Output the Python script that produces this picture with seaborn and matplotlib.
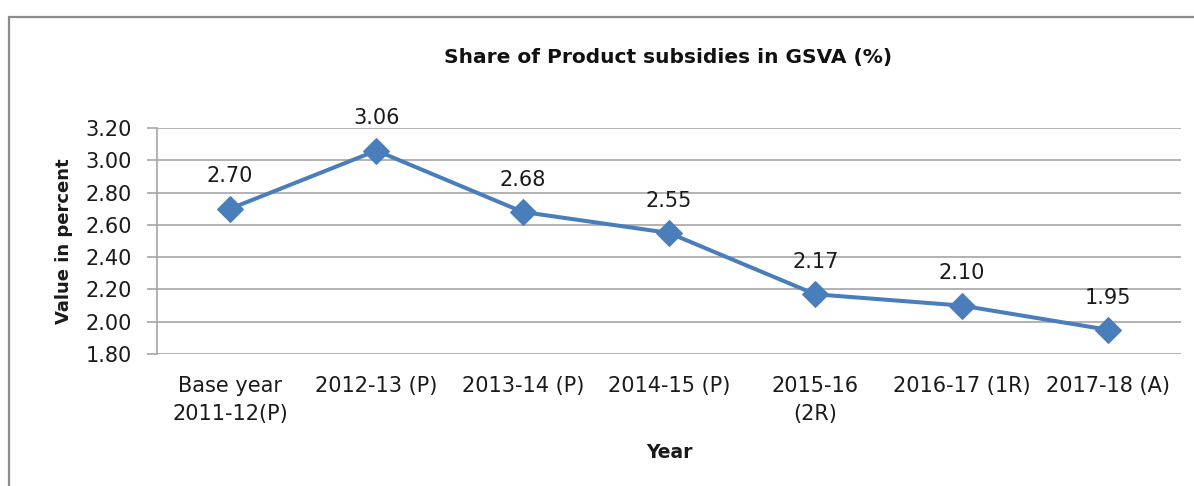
import pandas as pd
import matplotlib
matplotlib.use("Agg")
import matplotlib.pyplot as plt
import matplotlib.patches as mpatches
import seaborn as sns

# Chart data
years = ["Base year\n2011-12(P)", "2012-13 (P)", "2013-14 (P)", "2014-15 (P)",
         "2015-16\n(2R)", "2016-17 (1R)", "2017-18 (A)"]
share = [2.70, 3.06, 2.68, 2.55, 2.17, 2.10, 1.95]
y_ticks = [1.80, 2.00, 2.20, 2.40, 2.60, 2.80, 3.00, 3.20]

df = pd.DataFrame({"Year": years, "Share": share})

sns.set_style("white")
plt.rcParams["font.family"] = ["DejaVu Sans"]

fig = plt.figure(figsize=(11.94, 4.86), dpi=100)
ax = fig.add_axes([157 / 1194, 1 - 354 / 486, (1181 - 157) / 1194, (354 - 128) / 486])

line_color = "#4A7EBB"
sns.lineplot(data=df, x="Year", y="Share", sort=False, ax=ax, color=line_color,
             linewidth=2.9, marker="D", markersize=13, markeredgecolor=line_color)

# Data labels above the points
for i, v in enumerate(share):
    ax.annotate(f"{v:.2f}", (i, v), xytext=(0, 16), textcoords="offset points",
                ha="center", va="bottom", fontsize=15, color="#1A1A1A")

ax.set_xlim(-0.5, len(years) - 0.5)
ax.set_ylim(1.80, 3.20)
ax.set_yticks(y_ticks)
ax.set_yticklabels([f"{t:.2f}" for t in y_ticks])

grid_color = "#A6A6A6"
ax.yaxis.grid(True, color=grid_color, linewidth=1.2)
ax.set_axisbelow(True)
for side in ["top", "right", "bottom"]:
    ax.spines[side].set_visible(False)
ax.spines["left"].set_color(grid_color)
ax.spines["left"].set_linewidth(1.2)

ax.tick_params(axis="y", left=True, length=7, width=1.2, color=grid_color,
               labelsize=15, labelcolor="#1A1A1A", pad=11)
ax.tick_params(axis="x", bottom=False, labelsize=15, labelcolor="#1A1A1A", pad=12)
for lbl in ax.get_xticklabels():
    lbl.set_linespacing(1.5)

ax.set_xlabel("Year", fontsize=13.5, fontweight="bold", labelpad=14, color="#1A1A1A")
ax.set_ylabel("Value in percent", fontsize=13, fontweight="bold", labelpad=9, color="#1A1A1A")

fig.text(668 / 1194, 1 - 57 / 486, "Share of Product subsidies in GSVA (%)",
         ha="center", va="center", fontsize=14.5, fontweight="bold", color="#111111")

# Outer chart frame (partially cropped)
frame = mpatches.Rectangle((9 / 1194, -0.1), 1.2, 1.1 - 17 / 486,
                           transform=fig.transFigure, fill=False,
                           edgecolor="#8C8C8C", linewidth=1.6)
fig.patches.append(frame)

fig.savefig("out.png", dpi=100)
